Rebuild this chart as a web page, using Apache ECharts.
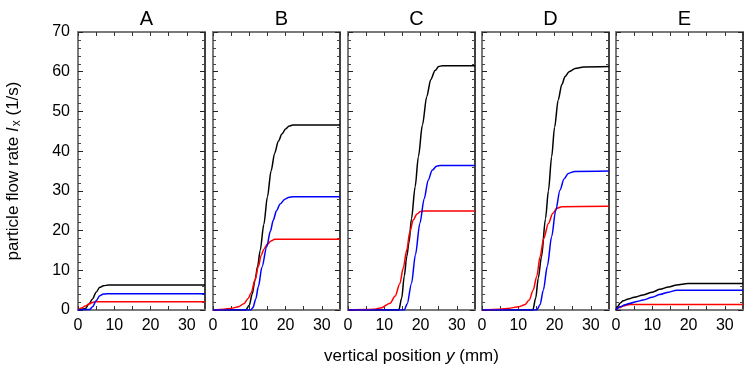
<!DOCTYPE html>
<html>
<head>
<meta charset="utf-8">
<script src="https://cdn.jsdelivr.net/npm/echarts@6/dist/echarts.min.js"></script>
<style>
  html, body { margin: 0; padding: 0; background: #fff; }
  #chart { width: 747px; height: 374px; }
</style>
</head>
<body>
<div id="chart"></div>
<script>
// panel names
var panels = ['A', 'B', 'C', 'D', 'E']

// [y (mm), I_x (1/s)]
var aBlack = [[0, 0], [2, 0.3], [3, 1.5], [4, 2.8], [5, 4.5], [6, 5.7], [7, 6.1], [8.5, 6.3], [35, 6.3]]
var aBlue = [[0, 0], [3.2, 0.1], [4, 0.8], [5, 2.3], [6, 3.6], [7, 4.0], [8, 4.1], [35, 4.1]]
var aRed = [[0, 0], [1, 0.5], [2, 1.0], [3, 1.5], [4, 1.9], [5, 2.1], [35, 2.1]]

var bBlack = [[0, 0], [9, 0], [10, 1.2], [10.8, 4], [11.6, 7.6], [12.3, 11], [13, 15], [14, 21.5], [15, 28.5], [16, 35], [17, 39.5], [18, 42.5], [19, 44.3], [20, 45.6], [21, 46.3], [22, 46.6], [35, 46.6]]
var bBlue = [[0, 0], [10.4, 0], [11, 0.6], [11.8, 2.8], [12.5, 5.9], [13.5, 10.8], [14.8, 15.9], [15.8, 19.8], [16.6, 22.6], [17.5, 25], [18.5, 26.7], [19.8, 27.9], [21, 28.4], [22, 28.5], [35, 28.5]]
var bRed = [[0, 0], [3, 0.2], [5, 0.4], [7, 0.8], [8.5, 1.6], [9.7, 2.9], [10.5, 4.3], [11.6, 7.6], [12.5, 11], [13.3, 13.8], [14, 15.3], [15, 16.6], [16, 17.4], [17, 17.8], [35, 17.8]]

var cBlack = [[0, 0], [14, 0], [14.8, 3], [15.5, 8.5], [16.2, 13.5], [16.8, 17], [17.5, 23], [18.5, 31], [19.4, 38.6], [20.5, 46.5], [21.7, 53.7], [22.8, 58], [24, 60.3], [25, 61.3], [26, 61.5], [35, 61.5]]
var cBlue = [[0, 0], [15.5, 0], [16.3, 1.5], [17.5, 6.7], [18.6, 14], [19.8, 21.8], [21, 28], [22.1, 32.7], [23.2, 35.2], [24.4, 36.2], [25.5, 36.4], [35, 36.4]]
var cRed = [[0, 0], [5, 0.1], [7, 0.2], [9, 0.5], [11.6, 1.7], [13, 3.5], [14.3, 6.7], [15.2, 10.5], [16.2, 15.1], [17, 19.5], [18, 22.7], [19, 24.2], [20, 24.8], [21, 24.9], [35, 24.9]]

var dBlack = [[0, 0], [14, 0], [14.8, 3], [15.5, 8], [16.4, 13.4], [17.5, 23], [18.3, 30], [19.2, 38.6], [20, 46], [21, 52.9], [22, 56.8], [22.9, 58.8], [24, 60], [25.7, 60.8], [28, 61.2], [35, 61.3]]
var dBlue = [[0, 0], [15.1, 0], [16, 1.3], [16.9, 5], [18, 11], [19.2, 18.5], [20.3, 25], [21.5, 30.2], [22.6, 33], [23.8, 34.4], [25.5, 34.9], [35, 35]]
var dRed = [[0, 0], [5, 0.2], [7.2, 0.4], [10, 0.8], [11.8, 1.3], [13, 2.5], [14.1, 5], [15.1, 8.5], [16, 13.4], [17, 18], [18.3, 21.8], [19.5, 24.3], [20.6, 25.6], [22, 26], [35, 26.1]]

var eBlack = [[0, 0], [0.5, 0.9], [1.1, 1.7], [2, 2.3], [3.4, 2.8], [5, 3.2], [7.5, 3.8], [10, 4.5], [12.1, 5.2], [14.5, 5.8], [16.7, 6.3], [19.8, 6.7], [35, 6.7]]
var eBlue = [[0, 0], [1.1, 0.8], [2.5, 1.3], [3.9, 1.7], [5.5, 2.1], [7.5, 2.5], [10, 3.2], [12.1, 3.9], [14.5, 4.5], [16.7, 5.0], [18, 5.0], [35, 5.0]]
var eRed = [[0, 0], [1, 0.6], [2, 1.0], [3, 1.25], [3.9, 1.4], [35, 1.4]]

// drawing order: black underneath, then red, blue on top
var panelData = [
  [aBlack, aRed, aBlue],
  [bBlack, bRed, bBlue],
  [cBlack, cRed, cBlue],
  [dBlack, dRed, dBlue],
  [eBlack, eRed, eBlue]
]
var lineColors = ['#000000', '#ff0000', '#0000ff']

// 布局
var gridLefts = [78, 213, 348, 482, 616]
var gridWidth = 127
var gridTop = 32
var gridHeight = 278
var font = 'Liberation Sans, Arial, sans-serif'

var grids = []
var xAxes = []
var yAxes = []
var titles = []
var series = []

panels.forEach(function(p, i) {
  grids.push({ left: gridLefts[i], top: gridTop, width: gridWidth, height: gridHeight })
  titles.push({
    text: p,
    left: gridLefts[i] + gridWidth / 2,
    top: 4,
    textAlign: 'center',
    textStyle: { fontFamily: font, fontWeight: 'normal', fontSize: 20, color: '#000' }
  })
  // bottom x axis
  xAxes.push({
    type: 'value', gridIndex: i, min: 0, max: 35, interval: 5, position: 'bottom',
    axisLine: { onZero: false, lineStyle: { color: '#7a7a7a', width: 2 } },
    axisTick: { inside: true, length: 4, lineStyle: { color: '#333' } },
    axisLabel: {
      fontFamily: font, fontSize: 16, color: '#000', margin: 8, showMaxLabel: false,
      formatter: function(v) { return v % 10 === 0 ? String(v) : '' }
    },
    splitLine: { show: false },
    name: i === 2 ? 'vertical position {i|y} (mm)' : '',
    nameLocation: 'middle',
    nameGap: 38,
    nameTextStyle: {
      fontFamily: font, fontSize: 17, color: '#000',
      rich: { i: { fontFamily: font, fontSize: 17, fontStyle: 'italic', color: '#000' } }
    }
  })
  // top x axis (frame)
  xAxes.push({
    type: 'value', gridIndex: i, min: 0, max: 35, interval: 5, position: 'top',
    axisLine: { onZero: false, lineStyle: { color: '#7a7a7a', width: 2 } },
    axisTick: { inside: true, length: 4, lineStyle: { color: '#333' } },
    axisLabel: { show: false },
    splitLine: { show: false }
  })
  // left y axis
  yAxes.push({
    type: 'value', gridIndex: i, min: 0, max: 70, interval: 10, position: 'left',
    axisLine: { onZero: false, lineStyle: { color: '#7a7a7a', width: 2 } },
    axisTick: { inside: true, length: 5, lineStyle: { color: '#222' } },
    minorTick: { show: true, splitNumber: 5, length: 3, lineStyle: { color: '#444' } },
    axisLabel: { show: i === 0, fontFamily: font, fontSize: 16, color: '#000', margin: 8 },
    splitLine: { show: false },
    name: i === 0 ? 'particle flow rate {i|I}{s|x} (1/s)' : '',
    nameLocation: 'middle',
    nameRotate: 90,
    nameGap: 55,
    nameTextStyle: {
      fontFamily: font, fontSize: 17, color: '#000',
      rich: {
        i: { fontFamily: font, fontSize: 17, fontStyle: 'italic', color: '#000' },
        s: { fontFamily: font, fontSize: 12, color: '#000', padding: [8, 0, 0, 1] }
      }
    }
  })
  // right y axis (frame)
  yAxes.push({
    type: 'value', gridIndex: i, min: 0, max: 70, interval: 10, position: 'right',
    axisLine: { onZero: false, lineStyle: { color: '#000', width: 1.5 } },
    axisTick: { inside: true, length: 5, lineStyle: { color: '#222' } },
    minorTick: { show: true, splitNumber: 5, length: 3, lineStyle: { color: '#444' } },
    axisLabel: { show: false },
    splitLine: { show: false }
  })
  panelData[i].forEach(function(d, k) {
    series.push({
      type: 'line',
      xAxisIndex: i * 2,
      yAxisIndex: i * 2,
      data: d,
      smooth: 0.3,
      smoothMonotone: 'x',
      showSymbol: false,
      silent: true,
      lineStyle: { color: lineColors[k], width: 1.5 },
      z: 3 + k
    })
  })
})

var chart = echarts.init(document.getElementById('chart'), null, { renderer: 'canvas' })
chart.setOption({
  backgroundColor: '#fff',
  animation: false,
  title: titles,
  grid: grids,
  xAxis: xAxes,
  yAxis: yAxes,
  series: series
})
</script>
</body>
</html>
